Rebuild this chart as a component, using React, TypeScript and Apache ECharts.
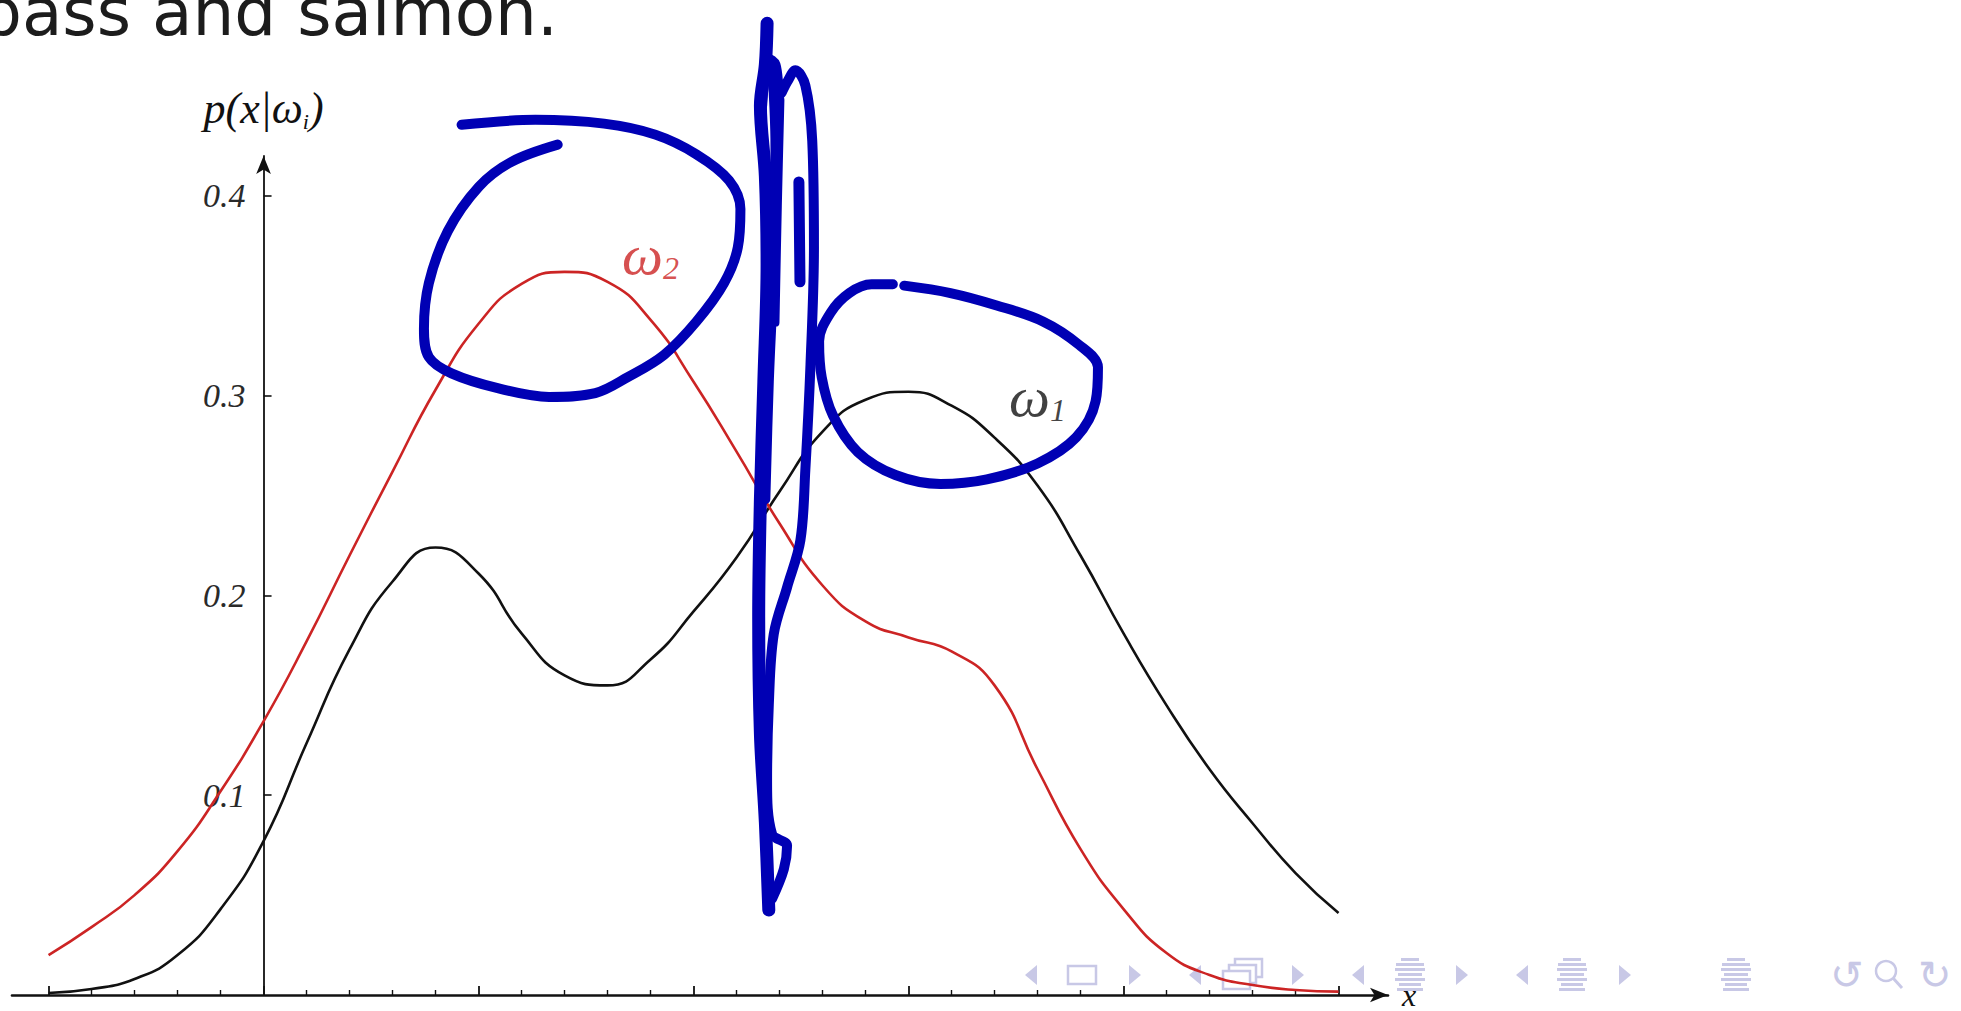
import React, { useEffect, useRef } from "react";
import * as echarts from "echarts";

// ---- axes ----
const X_MIN = 8.83;
const X_MAX = 15.23;
const Y_MIN = 0;
const Y_MAX = 0.42;
const Y_AXIS_AT = 10;
const X_MAJOR_TICKS = [9, 10, 11, 12, 13, 14, 15];
const X_MINOR_TICKS = [
  9.2, 9.4, 9.6, 9.8, 10.2, 10.4, 10.6, 10.8, 11.2, 11.4, 11.6, 11.8, 12.2, 12.4, 12.6, 12.8,
  13.2, 13.4, 13.6, 13.8, 14.2, 14.4, 14.6, 14.8,
];
const Y_TICKS = [0.1, 0.2, 0.3, 0.4];

// ---- class-conditional densities p(x|ω) read at x = 9.0, 9.2, ..., 15.0 ----
const X_SAMPLES = [
  9.0, 9.2, 9.4, 9.6, 9.8, 10.0, 10.2, 10.4, 10.6, 10.8, 11.0, 11.2, 11.4, 11.6, 11.8, 12.0, 12.2,
  12.4, 12.6, 12.8, 13.0, 13.2, 13.4, 13.6, 13.8, 14.0, 14.2, 14.4, 14.6, 14.8, 15.0,
];
const OMEGA1_Y = [
  0.001, 0.003, 0.008, 0.02, 0.043, 0.077, 0.126, 0.173, 0.207, 0.224, 0.211, 0.181, 0.16, 0.155,
  0.168, 0.192, 0.219, 0.252, 0.282, 0.298, 0.302, 0.295, 0.279, 0.255, 0.22, 0.181, 0.145, 0.113,
  0.086, 0.061, 0.041,
];
const OMEGA2_Y = [
  0.02, 0.034, 0.05, 0.072, 0.102, 0.137, 0.177, 0.22, 0.262, 0.303, 0.336, 0.356, 0.362, 0.357,
  0.338, 0.307, 0.272, 0.236, 0.205, 0.187, 0.179, 0.172, 0.155, 0.113, 0.073, 0.043, 0.021, 0.01,
  0.005, 0.0025, 0.0017,
];
const LABEL_OMEGA1 = [13.6, 0.2994];
const LABEL_OMEGA2 = [11.8, 0.3706];

// ---- hand-drawn ink annotations (data units) ----
const INK_LOOP_W2_X = [
  11.368, 11.153, 11.002, 10.857, 10.769, 10.746, 10.769, 10.874, 11.089, 11.328, 11.543, 11.694,
  11.863, 12.014, 12.142, 12.206, 12.218, 12.165, 12.014, 11.822, 11.584, 11.264, 10.921,
];
const INK_LOOP_W2_Y = [
  0.4257, 0.4171, 0.4047, 0.3824, 0.3564, 0.3335, 0.3193, 0.3112, 0.3038, 0.2994, 0.3013, 0.3093,
  0.3205, 0.3372, 0.3564, 0.3743, 0.3935, 0.4078, 0.4208, 0.4307, 0.4362, 0.4381, 0.4356,
];
const INK_LOOP_W1_X = [
  12.98, 13.195, 13.41, 13.625, 13.794, 13.881, 13.87, 13.78, 13.6, 13.364, 13.148, 12.939,
  12.764, 12.648, 12.596, 12.584, 12.637, 12.724, 12.828, 12.927,
];
const INK_LOOP_W1_Y = [
  0.3551, 0.3514, 0.3452, 0.3372, 0.3254, 0.3143, 0.2972, 0.2792, 0.2661, 0.2581, 0.2558, 0.2603,
  0.2718, 0.2902, 0.3093, 0.3273, 0.3415, 0.3514, 0.3558, 0.3558,
];
const INK_BOUNDARY_MAIN_X = [12.342, 12.334, 12.311, 12.334, 12.342, 12.327, 12.311, 12.303, 12.311, 12.334, 12.35];
const INK_BOUNDARY_MAIN_Y = [0.4864, 0.4658, 0.4452, 0.4099, 0.3658, 0.307, 0.2482, 0.1894, 0.1306, 0.0865, 0.0425];
const INK_BOUNDARY_LOOP_X = [
  12.319, 12.35, 12.381, 12.404, 12.435, 12.474, 12.52, 12.552, 12.56, 12.544, 12.52, 12.497,
  12.435, 12.373, 12.35, 12.342, 12.365, 12.435, 12.42, 12.365,
];
const INK_BOUNDARY_LOOP_Y = [
  0.4452, 0.4687, 0.4658, 0.4511, 0.457, 0.4629, 0.4554, 0.4276, 0.3746, 0.3158, 0.2629, 0.2276,
  0.2041, 0.1806, 0.1453, 0.1069, 0.0806, 0.0747, 0.063, 0.0481,
];
const INK_BOUNDARY_INNER_X = [12.365, 12.381, 12.373, 12.35, 12.334];
const INK_BOUNDARY_INNER_Y = [0.4658, 0.4246, 0.3658, 0.307, 0.2482];
const INK_BOUNDARY_INNER2_X = [12.404, 12.392, 12.381];
const INK_BOUNDARY_INNER2_Y = [0.4481, 0.3952, 0.3366];
const INK_BOUNDARY_SHORT_X = [12.49, 12.495];
const INK_BOUNDARY_SHORT_Y = [0.407, 0.357];

const HEADING = "bass and salmon.";

const INK = "#0000b4";
const NAV = "#c8c8e6";
const SERIF = "'Liberation Serif', 'Times New Roman', serif";

const zip = (xs: number[], ys: number[]) => xs.map((x, i) => [x, ys[i]]);

function triangle(cx: number, cy: number, dir: number) {
  const w = 6;
  const h = 10;
  const pts =
    dir < 0
      ? [[cx + w, cy - h], [cx + w, cy + h], [cx - w, cy]]
      : [[cx - w, cy - h], [cx - w, cy + h], [cx + w, cy]];
  return { type: "polygon", shape: { points: pts }, style: { fill: NAV } };
}
function box(cx: number, cy: number) {
  return {
    type: "rect",
    shape: { x: cx - 14, y: cy - 9, width: 28, height: 18 },
    style: { fill: "#fff", stroke: NAV, lineWidth: 2.5 },
  };
}
function stacked(cx: number, cy: number) {
  return [12, 6, 0].map((d) => ({
    type: "rect",
    shape: { x: cx - 20 + d, y: cy - 4 - d, width: 27, height: 18 },
    style: { fill: "#fff", stroke: NAV, lineWidth: 2.5 },
  }));
}
function bars(cx: number, cy: number) {
  const widths = [18, 28, 30, 24, 30, 22, 26];
  return widths.map((w, i) => ({
    type: "rect",
    shape: { x: cx - w / 2, y: cy - 17 + i * 5, width: w, height: 3 },
    style: { fill: NAV },
  }));
}

export default function App() {
  const ref = useRef<HTMLDivElement>(null);

  useEffect(() => {
    const el = ref.current!;
    const chart = echarts.init(el, undefined, { renderer: "svg" });

    const gridLeft = 12;
    const gridTop = 156;
    const gridWidth = 1376;
    const gridHeight = 849;
    const yAxisOffset = -((Y_AXIS_AT - X_MIN) / (X_MAX - X_MIN)) * gridWidth;

    const inkStrokes = [
      { d: zip(INK_LOOP_W2_X, INK_LOOP_W2_Y), w: 10 },
      { d: zip(INK_LOOP_W1_X, INK_LOOP_W1_Y), w: 10 },
      { d: zip(INK_BOUNDARY_MAIN_X, INK_BOUNDARY_MAIN_Y), w: 13 },
      { d: zip(INK_BOUNDARY_LOOP_X, INK_BOUNDARY_LOOP_Y), w: 10 },
      { d: zip(INK_BOUNDARY_INNER_X, INK_BOUNDARY_INNER_Y), w: 10 },
      { d: zip(INK_BOUNDARY_INNER2_X, INK_BOUNDARY_INNER2_Y), w: 8 },
      { d: zip(INK_BOUNDARY_SHORT_X, INK_BOUNDARY_SHORT_Y), w: 11 },
    ];

    const navY = 975;
    const graphic: any[] = [
      {
        type: "text",
        x: -20,
        y: 12,
        style: {
          text: HEADING,
          font: "66px 'DejaVu Sans', sans-serif",
          fill: "#1c1c1c",
          verticalAlign: "middle",
        },
      },
      triangle(1031, navY, -1),
      box(1082, navY),
      triangle(1135, navY, 1),
      triangle(1195, navY, -1),
      ...stacked(1243, navY),
      triangle(1298, navY, 1),
      triangle(1358, navY, -1),
      ...bars(1410, navY),
      triangle(1462, navY, 1),
      triangle(1522, navY, -1),
      ...bars(1572, navY),
      triangle(1625, navY, 1),
      ...bars(1736, navY),
      {
        type: "text",
        x: 1830,
        y: navY,
        style: { text: "↺", font: "40px 'DejaVu Sans'", fill: NAV, verticalAlign: "middle" },
      },
      {
        type: "circle",
        shape: { cx: 1886, cy: navY - 4, r: 10 },
        style: { fill: "none", stroke: NAV, lineWidth: 2.5 },
      },
      {
        type: "line",
        shape: { x1: 1893, y1: navY + 3, x2: 1902, y2: navY + 13 },
        style: { stroke: NAV, lineWidth: 3 },
      },
      {
        type: "text",
        x: 1918,
        y: navY,
        style: { text: "↻", font: "40px 'DejaVu Sans'", fill: NAV, verticalAlign: "middle" },
      },
    ];

    const omegaLabel = (sub: string, color: string) => ({
      show: true,
      position: "inside",
      formatter: `{w|ω}{s|${sub}}`,
      rich: {
        w: { fontFamily: SERIF, fontStyle: "italic", fontSize: 58, color, lineHeight: 58 },
        s: {
          fontFamily: SERIF,
          fontStyle: "italic",
          fontSize: 32,
          color,
          lineHeight: 44,
          verticalAlign: "bottom",
        },
      },
    });

    const option: any = {
      animation: false,
      backgroundColor: "#ffffff",
      grid: { left: gridLeft, top: gridTop, width: gridWidth, height: gridHeight, containLabel: false },
      xAxis: [
        {
          type: "value",
          min: X_MIN,
          max: X_MAX,
          position: "bottom",
          name: "x",
          nameLocation: "end",
          nameGap: 14,
          nameTextStyle: {
            fontFamily: SERIF,
            fontStyle: "italic",
            fontSize: 32,
            color: "#111",
            padding: [12, 0, 0, 0],
          },
          axisLine: {
            show: true,
            onZero: false,
            symbol: ["none", "arrow"],
            symbolSize: [11, 18],
            lineStyle: { color: "#111", width: 2.6 },
          },
          axisTick: {
            show: true,
            inside: true,
            length: 9,
            customValues: X_MAJOR_TICKS,
            lineStyle: { color: "#111", width: 1.8 },
          },
          axisLabel: { show: false },
          splitLine: { show: false },
        },
        {
          type: "value",
          min: X_MIN,
          max: X_MAX,
          position: "bottom",
          axisLine: { show: false, onZero: false },
          axisTick: {
            show: true,
            inside: true,
            length: 5,
            customValues: X_MINOR_TICKS,
            lineStyle: { color: "#111", width: 1.4 },
          },
          axisLabel: { show: false },
          splitLine: { show: false },
        },
      ],
      yAxis: {
        type: "value",
        min: Y_MIN,
        max: Y_MAX,
        position: "left",
        offset: yAxisOffset,
        name: "{a|p(x|ω}{b|i}{a|)}",
        nameLocation: "end",
        nameGap: 24,
        nameTextStyle: {
          rich: {
            a: { fontFamily: SERIF, fontStyle: "italic", fontSize: 44, color: "#111", lineHeight: 48 },
            b: {
              fontFamily: SERIF,
              fontStyle: "italic",
              fontSize: 22,
              color: "#111",
              lineHeight: 26,
              verticalAlign: "bottom",
            },
          },
        },
        axisLine: {
          show: true,
          onZero: false,
          symbol: ["none", "arrow"],
          symbolSize: [11, 18],
          lineStyle: { color: "#111", width: 1.8 },
        },
        axisTick: {
          show: true,
          inside: true,
          length: 8,
          customValues: Y_TICKS,
          lineStyle: { color: "#111", width: 1.6 },
        },
        axisLabel: {
          show: true,
          customValues: Y_TICKS,
          formatter: (v: number) => v.toFixed(1),
          fontFamily: SERIF,
          fontStyle: "italic",
          fontSize: 34,
          color: "#2a2a2a",
          margin: 18,
        },
        splitLine: { show: false },
      },
      series: [
        {
          name: "ω1",
          type: "line",
          data: zip(X_SAMPLES, OMEGA1_Y),
          smooth: 0.5,
          showSymbol: false,
          clip: false,
          z: 3,
          lineStyle: { color: "#111111", width: 2.6 },
        },
        {
          name: "ω2",
          type: "line",
          data: zip(X_SAMPLES, OMEGA2_Y),
          smooth: 0.5,
          showSymbol: false,
          clip: false,
          z: 3,
          lineStyle: { color: "#cc2424", width: 2.6 },
        },
        {
          type: "scatter",
          data: [LABEL_OMEGA2],
          symbolSize: 1,
          itemStyle: { color: "rgba(0,0,0,0)" },
          z: 4,
          label: omegaLabel("2", "#cc2424"),
        },
        {
          type: "scatter",
          data: [LABEL_OMEGA1],
          symbolSize: 1,
          itemStyle: { color: "rgba(0,0,0,0)" },
          z: 4,
          label: omegaLabel("1", "#111111"),
        },
        ...inkStrokes.map((s) => ({
          type: "line",
          data: s.d,
          smooth: 0.35,
          showSymbol: false,
          clip: false,
          z: 6,
          lineStyle: { color: INK, width: s.w, cap: "round", join: "round" },
        })),
      ],
      graphic,
    };

    chart.setOption(option);
    return () => chart.dispose();
  }, []);

  return (
    <div
      ref={ref}
      style={{ position: "fixed", left: 0, top: 0, width: 1961, height: 1011, background: "#fff" }}
    />
  );
}
